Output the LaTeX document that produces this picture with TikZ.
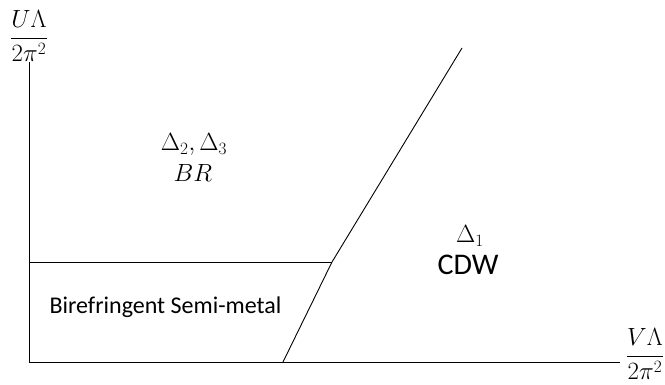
\documentclass[tikz,border=0pt]{standalone}
\usepackage{fontspec}
\setsansfont{Carlito}
\begin{document}
\begin{tikzpicture}[x=1pt,y=-1pt,
  ln/.style={line width=0.9pt},
  mathlbl/.style={inner sep=0pt,font=\fontsize{24}{28}\selectfont},
  sanslbl/.style={inner sep=0pt,font=\sffamily\fontsize{24}{28}\selectfont}]
\useasboundingbox (0,0) rectangle (665,385);
\coordinate (O) at (29,362);
\coordinate (Ytop) at (29,62);
\coordinate (Xend) at (620,362);
\coordinate (L) at (29,262);
\coordinate (J) at (332,262);
\coordinate (B) at (283,362);
\coordinate (T) at (462,48);
\draw[ln] (Ytop) -- (O) -- (Xend);
\draw[ln] (L) -- (J);
\draw[ln] (B) -- (J) -- (T);
\node[mathlbl] (ulab) at (29,36) {$\displaystyle\frac{U\Lambda}{2\pi^2}$};
\node[mathlbl] (vlab) at (645,354) {$\displaystyle\frac{V\Lambda}{2\pi^2}$};
\node[mathlbl,font=\fontsize{26}{30}\selectfont,anchor=base] (d23) at (194,151) {$\Delta_2,\Delta_3$};
\node[mathlbl,anchor=base] (br) at (193,182) {$BR$};
\node[mathlbl,anchor=base] (d1) at (470,243) {$\Delta_1$};
\node[sanslbl,font=\sffamily\fontsize{30}{34}\selectfont,anchor=base] (cdw) at (468,275) {CDW};
\node[sanslbl,anchor=base] (bsm) at (165.5,313) {Birefringent Semi-metal};
\end{tikzpicture}
\end{document}
